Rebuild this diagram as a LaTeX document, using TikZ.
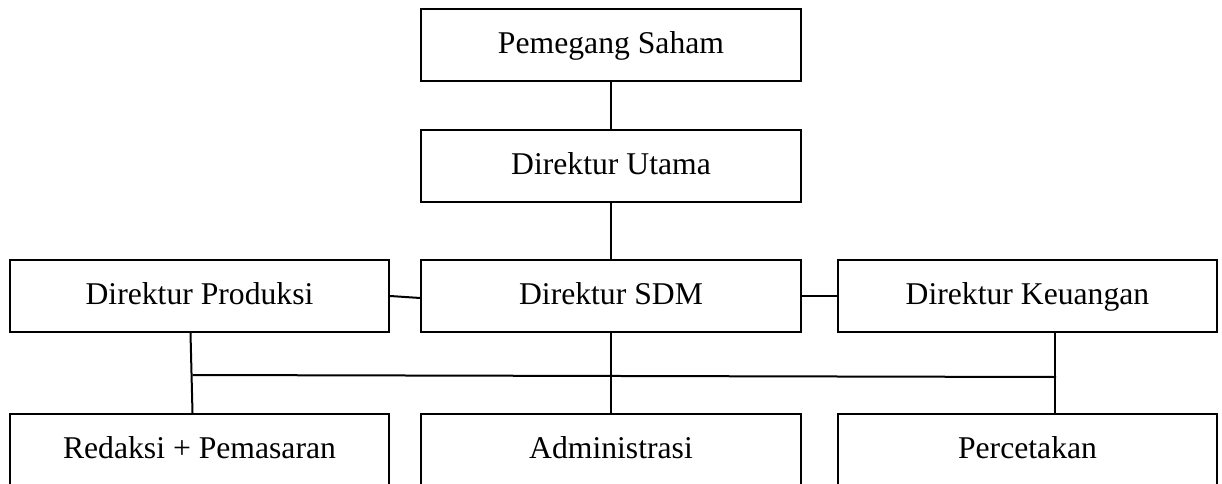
\documentclass[tikz,border=0pt]{standalone}
\usepackage{fontspec}
\setmainfont{Liberation Serif}
\usetikzlibrary{calc}
\begin{document}
\begin{tikzpicture}[x=0.75pt,y=-0.75pt,
  unit/.style={draw, line width=1.5pt, minimum width=284.5pt, minimum height=54pt,
    inner sep=0pt, text height=12pt, text depth=0pt,
    font=\fontsize{23.75pt}{28pt}\selectfont},
  link/.style={line width=1.5pt}]
  % canvas
  \fill[white] (0,0) rectangle (1222,483);
  \useasboundingbox (0,0) rectangle (1222,483);

  % organisation units
  \node[unit] (ps)   at (611,45)     {Pemegang Saham};
  \node[unit] (du)   at (611,166)    {Direktur Utama};
  \node[unit] (prod) at (199.5,296)  {Direktur Produksi};
  \node[unit] (sdm)  at (611,296)    {Direktur SDM};
  \node[unit] (keu)  at (1027.5,296) {Direktur Keuangan};
  \node[unit] (red)  at (199.5,450)  {Redaksi + Pemasaran};
  \node[unit] (adm)  at (611,450)    {Administrasi};
  \node[unit] (per)  at (1027.5,450) {Percetakan};

  % reporting lines
  \draw[link] (ps.south) -- (du.north);
  \draw[link] (du.south) -- (sdm.north);
  \draw[link] (prod.east) -- ($(sdm.west)+(0,2)$);
  \draw[link] (sdm.east) -- (keu.west);
  \draw[link] ($(prod.south)+(-9,0)$) -- ($(red.north)+(-7,0)$);
  \draw[link] (sdm.south) -- (adm.north);
  \draw[link] ($(keu.south)+(27.5,0)$) -- ($(per.north)+(27.5,0)$);

  % cross link between the lower units
  \coordinate (hl) at (192.5,375);
  \coordinate (hr) at (1056,377);
  \draw[link] (hl) -- (hr);
\end{tikzpicture}
\end{document}
